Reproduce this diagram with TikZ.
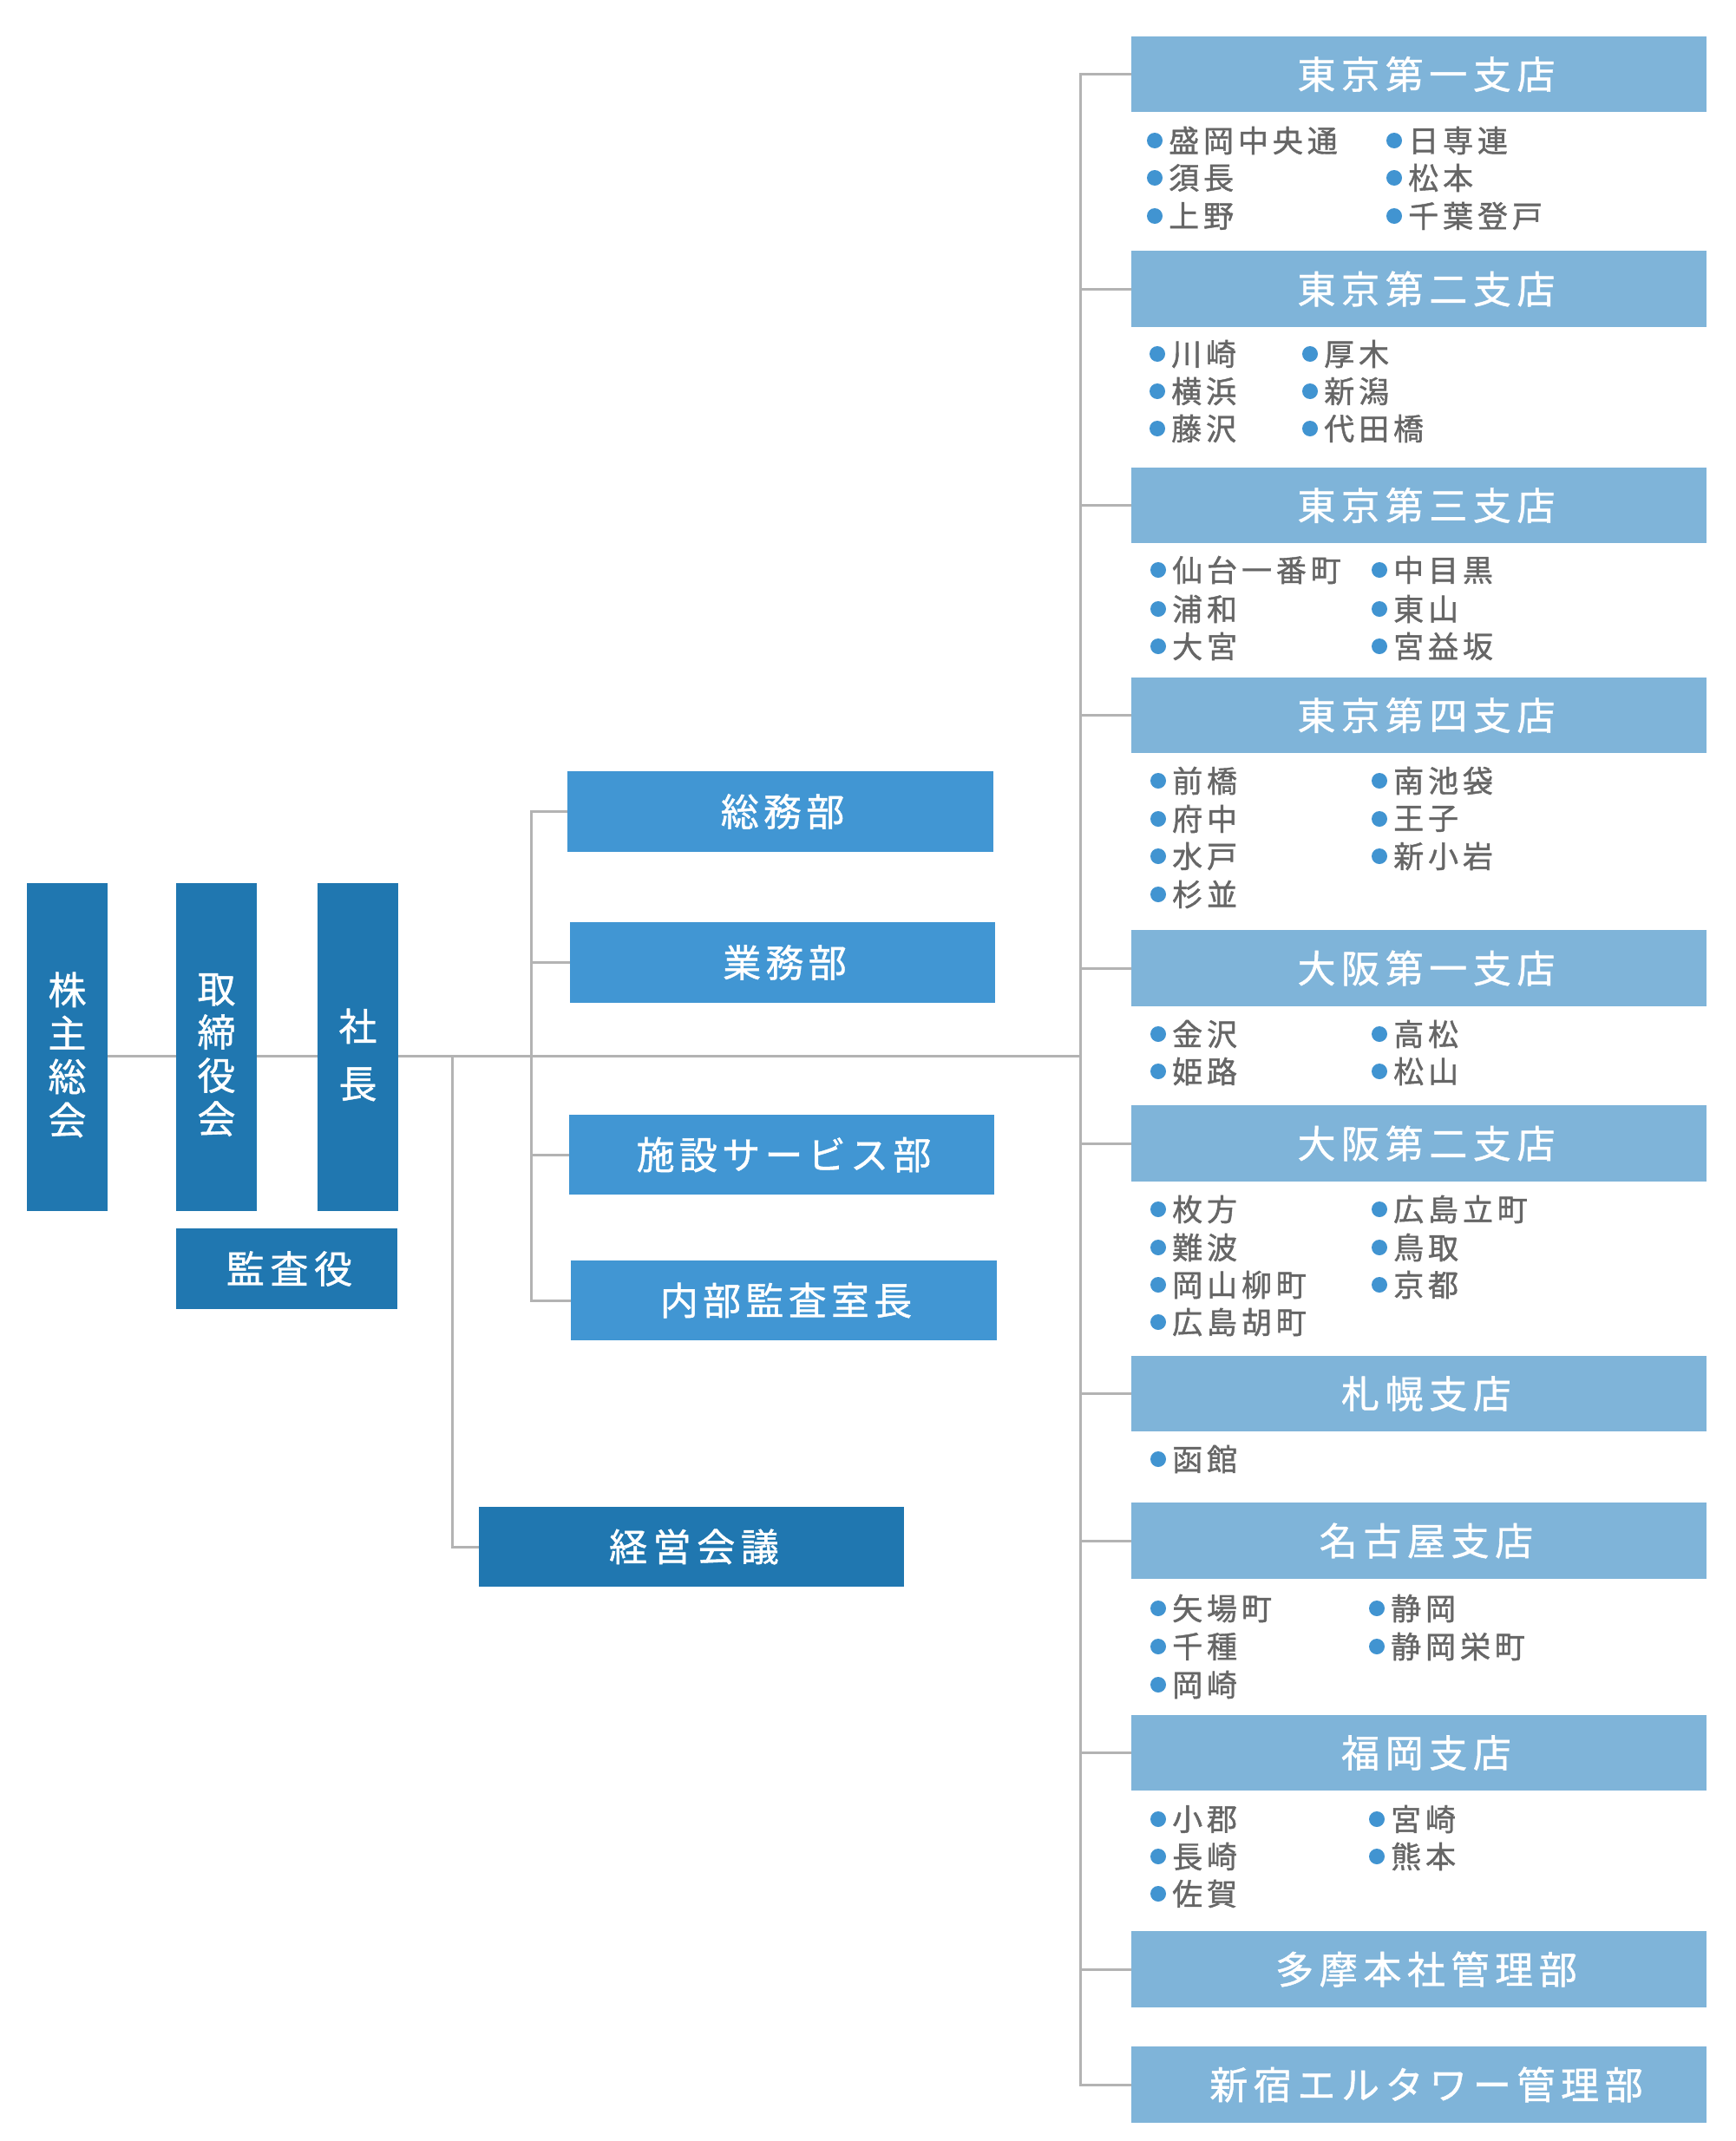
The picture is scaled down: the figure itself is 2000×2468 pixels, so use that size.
\documentclass[tikz,border=0pt]{standalone}
\usepackage{fontspec}
\setmainfont{Noto Sans CJK JP}
\newfontfamily\jpls[LetterSpace=15,FakeBold=1]{Noto Sans CJK JP}
\newfontfamily\jpdp[LetterSpace=12,FakeBold=1]{Noto Sans CJK JP}
\newfontfamily\jpli[LetterSpace=14,FakeBold=1.2]{Noto Sans CJK JP}
\newfontfamily\jpv[FakeBold=1]{Noto Sans CJK JP}
\definecolor{darkb}{HTML}{2077B0}
\definecolor{deptb}{HTML}{4196D3}
\definecolor{lightb}{HTML}{7FB4D9}
\definecolor{bulc}{HTML}{4194D1}
\definecolor{txtg}{HTML}{666666}
\definecolor{lineg}{HTML}{B3B3B3}
\tikzset{
  basebox/.style={anchor=north west, inner sep=0pt, outer sep=0pt, text=white},
  darkbox/.style={basebox, fill=darkb, font=\jpls\fontsize{44}{50}\selectfont, execute at end node={\kern-6pt}},
  vbox/.style={basebox, fill=darkb},
  vlab/.style={text=white, inner sep=0pt, align=center, yshift=-9pt, font=\jpv\fontsize{44}{50}\selectfont},
  deptbox/.style={basebox, fill=deptb, font=\jpdp\fontsize{44}{50}\selectfont, execute at end node={\kern-5pt}},
  brbox/.style={basebox, fill=lightb, font=\jpls\fontsize{44}{50}\selectfont, execute at end node={\kern-17pt}},
  conn/.style={draw=lineg, line width=3pt},
  litem/.style={anchor=west, inner sep=0pt, text=txtg, font=\jpli\fontsize{35}{40}\selectfont},
}
\newcommand\mybox[7]{\node[#6, minimum width=#4-#2, minimum height=#5-#3] (#1) at (#2,#3) {#7};}
\newcommand\bitem[4]{\fill[bulc] (#1,#2) circle[radius=9pt]; \node[litem] (#3) at (#1+16,#2) {#4};}
\begin{document}
\begin{tikzpicture}[x=1pt,y=-1pt]
\useasboundingbox (0,0) rectangle (2000,2468);
\fill[white] (0,0) rectangle (2000,2468);
% left column
\mybox{kabu}{31}{1018}{124}{1396}{vbox, label={[vlab]center:{株\\主\\総\\会}}}{}
\mybox{tori}{203}{1018}{296}{1396}{vbox, label={[vlab]center:{取\\締\\役\\会}}}{}
\mybox{sha}{366}{1018}{459}{1396}{vbox, label={[vlab, font=\jpv\fontsize{44}{66}\selectfont]center:{社\\長}}}{}
\mybox{kansa}{203}{1416}{458}{1509}{darkbox}{監査役}
\mybox{keiei}{552}{1737}{1042}{1829}{darkbox}{経営会議}
% departments
\mybox{soumu}{654}{889}{1145}{982}{deptbox}{総務部}
\mybox{gyomu}{657}{1063}{1147}{1156}{deptbox}{業務部}
\mybox{shisetsu}{656}{1285}{1146}{1377}{deptbox}{施設サービス部}
\mybox{naibu}{658}{1453}{1149}{1545}{deptbox}{内部監査室長}
% branches
\mybox{t1}{1304}{42}{1967}{129}{brbox}{東京第一支店}
\mybox{t2}{1304}{289}{1967}{377}{brbox}{東京第二支店}
\mybox{t3}{1304}{539}{1967}{626}{brbox}{東京第三支店}
\mybox{t4}{1304}{781}{1967}{868}{brbox}{東京第四支店}
\mybox{o1}{1304}{1072}{1967}{1160}{brbox}{大阪第一支店}
\mybox{o2}{1304}{1274}{1967}{1362}{brbox}{大阪第二支店}
\mybox{sap}{1304}{1563}{1967}{1650}{brbox}{札幌支店}
\mybox{nag}{1304}{1732}{1967}{1820}{brbox}{名古屋支店}
\mybox{fuk}{1304}{1977}{1967}{2064}{brbox}{福岡支店}
\mybox{tama}{1304}{2226}{1967}{2314}{brbox}{多摩本社管理部}
\mybox{shin}{1304}{2359}{1967}{2447}{brbox}{新宿エルタワー管理部}
% connectors
\coordinate (mainy) at (0,1217);
\coordinate (kv) at (521,1217);
\coordinate (dv) at (612,1217);
\coordinate (bv) at (1245,1217);
\draw[conn] (kabu.east |- mainy) -- (tori.west |- mainy);
\draw[conn] (tori.east |- mainy) -- (sha.west |- mainy);
\draw[conn] (sha.east |- mainy) -- (bv);
\draw[conn] (kv) |- (keiei.west);
\draw[conn, line cap=rect] (dv |- soumu.west) -- (dv |- naibu.west);
\foreach \n in {soumu,gyomu,shisetsu,naibu} \draw[conn] (dv |- \n.west) -- (\n.west);
\draw[conn, line cap=rect] (bv |- t1.west) -- (bv |- shin.west);
\foreach \n in {t1,t2,t3,t4,o1,o2,sap,nag,fuk,tama,shin} \draw[conn] (bv |- \n.west) -- (\n.west);
% lists
\bitem{1331}{162}{t1a}{盛岡中央通}
\bitem{1331}{205}{t1b}{須長}
\bitem{1331}{249}{t1c}{上野}
\bitem{1607}{162}{t1d}{日専連}
\bitem{1607}{205}{t1e}{松本}
\bitem{1607}{249}{t1f}{千葉登戸}
\bitem{1334}{408}{t2a}{川崎}
\bitem{1334}{451}{t2b}{横浜}
\bitem{1334}{494}{t2c}{藤沢}
\bitem{1510}{408}{t2d}{厚木}
\bitem{1510}{451}{t2e}{新潟}
\bitem{1510}{494}{t2f}{代田橋}
\bitem{1335}{657}{t3a}{仙台一番町}
\bitem{1335}{702}{t3b}{浦和}
\bitem{1335}{745}{t3c}{大宮}
\bitem{1590}{657}{t3d}{中目黒}
\bitem{1590}{702}{t3e}{東山}
\bitem{1590}{745}{t3f}{宮益坂}
\bitem{1335}{900}{t4a}{前橋}
\bitem{1335}{944}{t4b}{府中}
\bitem{1335}{987}{t4c}{水戸}
\bitem{1335}{1031}{t4d}{杉並}
\bitem{1590}{900}{t4e}{南池袋}
\bitem{1590}{944}{t4f}{王子}
\bitem{1590}{987}{t4g}{新小岩}
\bitem{1335}{1192}{o1a}{金沢}
\bitem{1335}{1235}{o1b}{姫路}
\bitem{1590}{1192}{o1c}{高松}
\bitem{1590}{1235}{o1d}{松山}
\bitem{1335}{1394}{o2a}{枚方}
\bitem{1335}{1438}{o2b}{難波}
\bitem{1335}{1481}{o2c}{岡山柳町}
\bitem{1335}{1524}{o2d}{広島胡町}
\bitem{1590}{1394}{o2e}{広島立町}
\bitem{1590}{1438}{o2f}{鳥取}
\bitem{1590}{1481}{o2g}{京都}
\bitem{1335}{1682}{sapa}{函館}
\bitem{1335}{1854}{naga}{矢場町}
\bitem{1335}{1898}{nagb}{千種}
\bitem{1335}{1942}{nagc}{岡崎}
\bitem{1587}{1854}{nagd}{静岡}
\bitem{1587}{1898}{nage}{静岡栄町}
\bitem{1335}{2097}{fuka}{小郡}
\bitem{1335}{2140}{fukb}{長崎}
\bitem{1335}{2183}{fukc}{佐賀}
\bitem{1587}{2097}{fukd}{宮崎}
\bitem{1587}{2140}{fuke}{熊本}
\end{tikzpicture}
\end{document}
